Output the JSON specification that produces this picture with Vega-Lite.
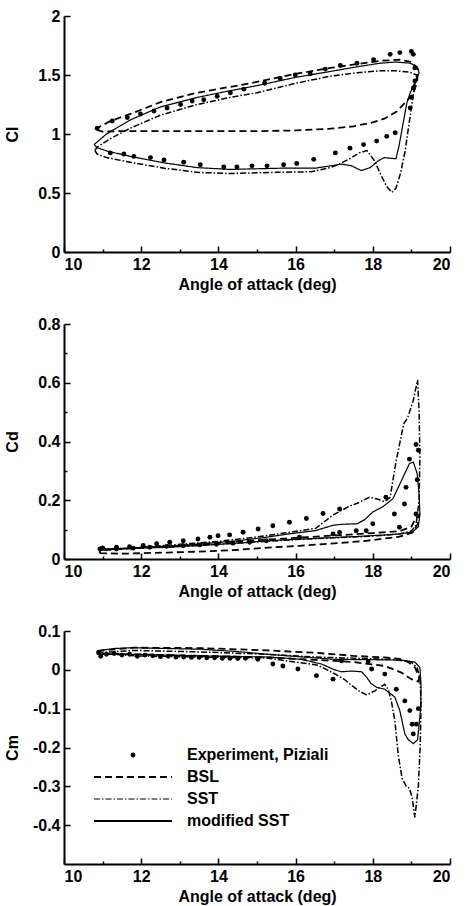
{
  "$schema": "https://vega.github.io/schema/vega-lite/v6.json",
  "padding": {"left": 4, "top": 8, "right": 8, "bottom": 4},
  "spacing": 24,
  "config": {
    "view": {"stroke": null},
    "font": "Liberation Sans",
    "axis": {
      "grid": false,
      "domainColor": "black",
      "domainWidth": 2,
      "tickColor": "black",
      "tickWidth": 1.5,
      "labelColor": "black",
      "labelFont": "Liberation Sans",
      "labelFontSize": 16,
      "labelFontWeight": "bold",
      "titleColor": "black",
      "titleFont": "Liberation Sans",
      "titleFontSize": 16,
      "titleFontWeight": "bold",
      "labelPadding": 10
    },
    "axisX": {"titlePadding": 4},
    "axisY": {"titleAngle": -90, "titleX": -44}
  },
  "resolve": {"scale": {"strokeDash": "independent", "strokeWidth": "independent"}, "legend": {"strokeDash": "independent"}},
  "datasets": {
    "cl": [
      {"m":"modified SST","i":0,"a":10.78,"v":0.91},{"m":"modified SST","i":1,"a":11.1,"v":1.0},{"m":"modified SST","i":2,"a":11.72,"v":1.12},{"m":"modified SST","i":3,"a":12.5,"v":1.23},{"m":"modified SST","i":4,"a":13.45,"v":1.31},{"m":"modified SST","i":5,"a":14.2,"v":1.36},{"m":"modified SST","i":6,"a":15.0,"v":1.41},{"m":"modified SST","i":7,"a":16.0,"v":1.48},{"m":"modified SST","i":8,"a":16.9,"v":1.53},{"m":"modified SST","i":9,"a":17.6,"v":1.57},{"m":"modified SST","i":10,"a":18.19,"v":1.6},{"m":"modified SST","i":11,"a":18.6,"v":1.61},{"m":"modified SST","i":12,"a":18.97,"v":1.6},{"m":"modified SST","i":13,"a":19.15,"v":1.57},{"m":"modified SST","i":14,"a":19.2,"v":1.52},{"m":"modified SST","i":15,"a":19.12,"v":1.46},{"m":"modified SST","i":16,"a":18.97,"v":1.35},{"m":"modified SST","i":17,"a":18.88,"v":1.26},{"m":"modified SST","i":18,"a":18.78,"v":1.08},{"m":"modified SST","i":19,"a":18.68,"v":0.9},{"m":"modified SST","i":20,"a":18.6,"v":0.79},{"m":"modified SST","i":21,"a":18.45,"v":0.795},{"m":"modified SST","i":22,"a":18.3,"v":0.8},{"m":"modified SST","i":23,"a":18.15,"v":0.775},{"m":"modified SST","i":24,"a":17.93,"v":0.715},{"m":"modified SST","i":25,"a":17.7,"v":0.69},{"m":"modified SST","i":26,"a":17.45,"v":0.73},{"m":"modified SST","i":27,"a":17.2,"v":0.745},{"m":"modified SST","i":28,"a":16.9,"v":0.73},{"m":"modified SST","i":29,"a":16.5,"v":0.71},{"m":"modified SST","i":30,"a":15.6,"v":0.71},{"m":"modified SST","i":31,"a":14.3,"v":0.7},{"m":"modified SST","i":32,"a":13.45,"v":0.715},{"m":"modified SST","i":33,"a":12.6,"v":0.755},{"m":"modified SST","i":34,"a":11.72,"v":0.81},{"m":"modified SST","i":35,"a":11.12,"v":0.855},{"m":"modified SST","i":36,"a":10.85,"v":0.885},{"m":"modified SST","i":37,"a":10.78,"v":0.91},
      {"m":"BSL","i":0,"a":10.8,"v":1.04},{"m":"BSL","i":1,"a":11.2,"v":1.11},{"m":"BSL","i":2,"a":11.72,"v":1.17},{"m":"BSL","i":3,"a":12.5,"v":1.27},{"m":"BSL","i":4,"a":13.45,"v":1.35},{"m":"BSL","i":5,"a":14.83,"v":1.43},{"m":"BSL","i":6,"a":16.0,"v":1.51},{"m":"BSL","i":7,"a":16.9,"v":1.56},{"m":"BSL","i":8,"a":18.19,"v":1.62},{"m":"BSL","i":9,"a":18.7,"v":1.63},{"m":"BSL","i":10,"a":19.0,"v":1.61},{"m":"BSL","i":11,"a":19.17,"v":1.55},{"m":"BSL","i":12,"a":19.15,"v":1.45},{"m":"BSL","i":13,"a":19.05,"v":1.34},{"m":"BSL","i":14,"a":18.62,"v":1.19},{"m":"BSL","i":15,"a":18.3,"v":1.13},{"m":"BSL","i":16,"a":18.02,"v":1.1},{"m":"BSL","i":17,"a":17.5,"v":1.065},{"m":"BSL","i":18,"a":16.9,"v":1.045},{"m":"BSL","i":19,"a":16.0,"v":1.03},{"m":"BSL","i":20,"a":15.17,"v":1.025},{"m":"BSL","i":21,"a":12.6,"v":1.025},{"m":"BSL","i":22,"a":11.55,"v":1.025},{"m":"BSL","i":23,"a":11.0,"v":1.02},{"m":"BSL","i":24,"a":10.8,"v":1.04},
      {"m":"SST","i":0,"a":10.8,"v":0.86},{"m":"SST","i":1,"a":10.86,"v":0.89},{"m":"SST","i":2,"a":11.2,"v":0.96},{"m":"SST","i":3,"a":11.72,"v":1.05},{"m":"SST","i":4,"a":12.5,"v":1.16},{"m":"SST","i":5,"a":13.45,"v":1.25},{"m":"SST","i":6,"a":14.3,"v":1.31},{"m":"SST","i":7,"a":15.0,"v":1.35},{"m":"SST","i":8,"a":16.0,"v":1.43},{"m":"SST","i":9,"a":16.9,"v":1.49},{"m":"SST","i":10,"a":17.6,"v":1.52},{"m":"SST","i":11,"a":18.19,"v":1.535},{"m":"SST","i":12,"a":18.6,"v":1.535},{"m":"SST","i":13,"a":18.95,"v":1.525},{"m":"SST","i":14,"a":19.14,"v":1.5},{"m":"SST","i":15,"a":19.08,"v":1.41},{"m":"SST","i":16,"a":18.99,"v":1.2},{"m":"SST","i":17,"a":18.9,"v":1.0},{"m":"SST","i":18,"a":18.84,"v":0.86},{"m":"SST","i":19,"a":18.72,"v":0.67},{"m":"SST","i":20,"a":18.6,"v":0.54},{"m":"SST","i":21,"a":18.49,"v":0.505},{"m":"SST","i":22,"a":18.35,"v":0.56},{"m":"SST","i":23,"a":18.2,"v":0.66},{"m":"SST","i":24,"a":18.05,"v":0.77},{"m":"SST","i":25,"a":17.85,"v":0.86},{"m":"SST","i":26,"a":17.65,"v":0.84},{"m":"SST","i":27,"a":17.4,"v":0.79},{"m":"SST","i":28,"a":17.1,"v":0.74},{"m":"SST","i":29,"a":16.9,"v":0.715},{"m":"SST","i":30,"a":16.4,"v":0.68},{"m":"SST","i":31,"a":15.5,"v":0.675},{"m":"SST","i":32,"a":14.3,"v":0.665},{"m":"SST","i":33,"a":13.45,"v":0.675},{"m":"SST","i":34,"a":12.6,"v":0.71},{"m":"SST","i":35,"a":11.72,"v":0.76},{"m":"SST","i":36,"a":11.1,"v":0.8},{"m":"SST","i":37,"a":10.86,"v":0.83},{"m":"SST","i":38,"a":10.8,"v":0.86},
      {"m":"Experiment, Piziali","a":10.86,"v":1.05},{"m":"Experiment, Piziali","a":11.25,"v":1.11},{"m":"Experiment, Piziali","a":11.64,"v":1.14},{"m":"Experiment, Piziali","a":11.98,"v":1.17},{"m":"Experiment, Piziali","a":12.33,"v":1.195},{"m":"Experiment, Piziali","a":12.67,"v":1.22},{"m":"Experiment, Piziali","a":13.02,"v":1.25},{"m":"Experiment, Piziali","a":13.32,"v":1.28},{"m":"Experiment, Piziali","a":13.62,"v":1.29},{"m":"Experiment, Piziali","a":13.97,"v":1.32},{"m":"Experiment, Piziali","a":14.31,"v":1.35},{"m":"Experiment, Piziali","a":14.66,"v":1.38},{"m":"Experiment, Piziali","a":15.2,"v":1.43},{"m":"Experiment, Piziali","a":15.6,"v":1.47},{"m":"Experiment, Piziali","a":15.99,"v":1.5},{"m":"Experiment, Piziali","a":16.38,"v":1.51},{"m":"Experiment, Piziali","a":16.77,"v":1.55},{"m":"Experiment, Piziali","a":17.16,"v":1.58},{"m":"Experiment, Piziali","a":17.59,"v":1.6},{"m":"Experiment, Piziali","a":18.02,"v":1.63},{"m":"Experiment, Piziali","a":18.45,"v":1.675},{"m":"Experiment, Piziali","a":18.7,"v":1.69},{"m":"Experiment, Piziali","a":19.0,"v":1.7},{"m":"Experiment, Piziali","a":19.05,"v":1.675},{"m":"Experiment, Piziali","a":19.09,"v":1.56},{"m":"Experiment, Piziali","a":19.09,"v":1.45},{"m":"Experiment, Piziali","a":19.05,"v":1.39},{"m":"Experiment, Piziali","a":19.0,"v":1.31},{"m":"Experiment, Piziali","a":18.97,"v":1.22},{"m":"Experiment, Piziali","a":18.58,"v":1.01},{"m":"Experiment, Piziali","a":18.36,"v":0.98},{"m":"Experiment, Piziali","a":18.1,"v":0.94},{"m":"Experiment, Piziali","a":17.76,"v":0.91},{"m":"Experiment, Piziali","a":17.41,"v":0.88},{"m":"Experiment, Piziali","a":17.03,"v":0.84},{"m":"Experiment, Piziali","a":16.47,"v":0.785},{"m":"Experiment, Piziali","a":16.03,"v":0.75},{"m":"Experiment, Piziali","a":15.69,"v":0.74},{"m":"Experiment, Piziali","a":15.26,"v":0.73},{"m":"Experiment, Piziali","a":14.87,"v":0.73},{"m":"Experiment, Piziali","a":14.48,"v":0.72},{"m":"Experiment, Piziali","a":14.14,"v":0.72},{"m":"Experiment, Piziali","a":13.53,"v":0.74},{"m":"Experiment, Piziali","a":13.1,"v":0.76},{"m":"Experiment, Piziali","a":12.59,"v":0.78},{"m":"Experiment, Piziali","a":12.24,"v":0.8},{"m":"Experiment, Piziali","a":11.81,"v":0.81},{"m":"Experiment, Piziali","a":11.55,"v":0.83},{"m":"Experiment, Piziali","a":11.2,"v":0.84}
    ],
    "cd": [
      {"m":"modified SST","i":0,"a":10.93,"v":0.034},{"m":"modified SST","i":1,"a":11.5,"v":0.036},{"m":"modified SST","i":2,"a":12.66,"v":0.04},{"m":"modified SST","i":3,"a":13.5,"v":0.046},{"m":"modified SST","i":4,"a":14.5,"v":0.054},{"m":"modified SST","i":5,"a":15.24,"v":0.062},{"m":"modified SST","i":6,"a":16.2,"v":0.068},{"m":"modified SST","i":7,"a":16.97,"v":0.073},{"m":"modified SST","i":8,"a":17.8,"v":0.078},{"m":"modified SST","i":9,"a":18.69,"v":0.085},{"m":"modified SST","i":10,"a":19.03,"v":0.092},{"m":"modified SST","i":11,"a":19.18,"v":0.11},{"m":"modified SST","i":12,"a":19.22,"v":0.15},{"m":"modified SST","i":13,"a":19.2,"v":0.22},{"m":"modified SST","i":14,"a":19.15,"v":0.29},{"m":"modified SST","i":15,"a":19.05,"v":0.33},{"m":"modified SST","i":16,"a":18.95,"v":0.325},{"m":"modified SST","i":17,"a":18.86,"v":0.3},{"m":"modified SST","i":18,"a":18.7,"v":0.255},{"m":"modified SST","i":19,"a":18.52,"v":0.205},{"m":"modified SST","i":20,"a":18.26,"v":0.178},{"m":"modified SST","i":21,"a":18.0,"v":0.16},{"m":"modified SST","i":22,"a":17.8,"v":0.135},{"m":"modified SST","i":23,"a":17.6,"v":0.12},{"m":"modified SST","i":24,"a":17.2,"v":0.118},{"m":"modified SST","i":25,"a":16.97,"v":0.115},{"m":"modified SST","i":26,"a":16.53,"v":0.097},{"m":"modified SST","i":27,"a":15.8,"v":0.085},{"m":"modified SST","i":28,"a":15.24,"v":0.074},{"m":"modified SST","i":29,"a":14.5,"v":0.062},{"m":"modified SST","i":30,"a":13.52,"v":0.051},{"m":"modified SST","i":31,"a":12.5,"v":0.042},{"m":"modified SST","i":32,"a":11.79,"v":0.036},{"m":"modified SST","i":33,"a":10.93,"v":0.03},
      {"m":"SST","i":0,"a":10.93,"v":0.034},{"m":"SST","i":1,"a":12.66,"v":0.04},{"m":"SST","i":2,"a":14.5,"v":0.054},{"m":"SST","i":3,"a":16.0,"v":0.066},{"m":"SST","i":4,"a":17.0,"v":0.072},{"m":"SST","i":5,"a":18.0,"v":0.078},{"m":"SST","i":6,"a":18.69,"v":0.085},{"m":"SST","i":7,"a":19.0,"v":0.095},{"m":"SST","i":8,"a":19.12,"v":0.115},{"m":"SST","i":9,"a":19.2,"v":0.2},{"m":"SST","i":10,"a":19.22,"v":0.35},{"m":"SST","i":11,"a":19.2,"v":0.5},{"m":"SST","i":12,"a":19.16,"v":0.61},{"m":"SST","i":13,"a":19.05,"v":0.54},{"m":"SST","i":14,"a":18.9,"v":0.48},{"m":"SST","i":15,"a":18.8,"v":0.46},{"m":"SST","i":16,"a":18.6,"v":0.33},{"m":"SST","i":17,"a":18.45,"v":0.21},{"m":"SST","i":18,"a":18.3,"v":0.195},{"m":"SST","i":19,"a":18.1,"v":0.205},{"m":"SST","i":20,"a":17.91,"v":0.21},{"m":"SST","i":21,"a":17.6,"v":0.19},{"m":"SST","i":22,"a":17.4,"v":0.18},{"m":"SST","i":23,"a":16.97,"v":0.15},{"m":"SST","i":24,"a":16.53,"v":0.105},{"m":"SST","i":25,"a":15.8,"v":0.09},{"m":"SST","i":26,"a":15.0,"v":0.075},{"m":"SST","i":27,"a":14.0,"v":0.06},{"m":"SST","i":28,"a":13.0,"v":0.05},{"m":"SST","i":29,"a":12.0,"v":0.04},{"m":"SST","i":30,"a":10.93,"v":0.03},
      {"m":"BSL","i":0,"a":10.93,"v":0.02},{"m":"BSL","i":1,"a":11.5,"v":0.018},{"m":"BSL","i":2,"a":12.66,"v":0.022},{"m":"BSL","i":3,"a":13.5,"v":0.025},{"m":"BSL","i":4,"a":14.38,"v":0.03},{"m":"BSL","i":5,"a":15.2,"v":0.038},{"m":"BSL","i":6,"a":16.1,"v":0.045},{"m":"BSL","i":7,"a":17.0,"v":0.053},{"m":"BSL","i":8,"a":17.83,"v":0.062},{"m":"BSL","i":9,"a":18.69,"v":0.076},{"m":"BSL","i":10,"a":19.03,"v":0.09},{"m":"BSL","i":11,"a":19.17,"v":0.12},{"m":"BSL","i":12,"a":19.2,"v":0.15},{"m":"BSL","i":13,"a":19.12,"v":0.14},{"m":"BSL","i":14,"a":19.0,"v":0.11},{"m":"BSL","i":15,"a":18.7,"v":0.095},{"m":"BSL","i":16,"a":18.0,"v":0.088},{"m":"BSL","i":17,"a":17.0,"v":0.08},{"m":"BSL","i":18,"a":16.0,"v":0.072},{"m":"BSL","i":19,"a":15.0,"v":0.064},{"m":"BSL","i":20,"a":14.0,"v":0.055},{"m":"BSL","i":21,"a":13.0,"v":0.045},{"m":"BSL","i":22,"a":12.0,"v":0.038},{"m":"BSL","i":23,"a":10.93,"v":0.03},{"m":"BSL","i":24,"a":10.93,"v":0.02},
      {"m":"Experiment, Piziali","a":10.93,"v":0.034},{"m":"Experiment, Piziali","a":11.36,"v":0.034},{"m":"Experiment, Piziali","a":11.79,"v":0.037},{"m":"Experiment, Piziali","a":12.22,"v":0.04},{"m":"Experiment, Piziali","a":12.66,"v":0.043},{"m":"Experiment, Piziali","a":13.09,"v":0.045},{"m":"Experiment, Piziali","a":13.52,"v":0.048},{"m":"Experiment, Piziali","a":13.95,"v":0.05},{"m":"Experiment, Piziali","a":14.38,"v":0.054},{"m":"Experiment, Piziali","a":14.81,"v":0.057},{"m":"Experiment, Piziali","a":15.24,"v":0.062},{"m":"Experiment, Piziali","a":16.1,"v":0.074},{"m":"Experiment, Piziali","a":16.97,"v":0.085},{"m":"Experiment, Piziali","a":17.83,"v":0.096},{"m":"Experiment, Piziali","a":18.69,"v":0.108},{"m":"Experiment, Piziali","a":19.12,"v":0.153},{"m":"Experiment, Piziali","a":19.15,"v":0.27},{"m":"Experiment, Piziali","a":19.12,"v":0.39},{"m":"Experiment, Piziali","a":19.18,"v":0.37},{"m":"Experiment, Piziali","a":18.95,"v":0.34},{"m":"Experiment, Piziali","a":18.86,"v":0.244},{"m":"Experiment, Piziali","a":18.82,"v":0.187},{"m":"Experiment, Piziali","a":18.56,"v":0.153},{"m":"Experiment, Piziali","a":18.34,"v":0.21},{"m":"Experiment, Piziali","a":18.0,"v":0.12},{"m":"Experiment, Piziali","a":17.57,"v":0.096},{"m":"Experiment, Piziali","a":17.14,"v":0.09},{"m":"Experiment, Piziali","a":17.14,"v":0.17},{"m":"Experiment, Piziali","a":16.71,"v":0.155},{"m":"Experiment, Piziali","a":16.28,"v":0.138},{"m":"Experiment, Piziali","a":15.84,"v":0.125},{"m":"Experiment, Piziali","a":15.41,"v":0.113},{"m":"Experiment, Piziali","a":15.03,"v":0.102},{"m":"Experiment, Piziali","a":14.64,"v":0.091},{"m":"Experiment, Piziali","a":14.29,"v":0.082},{"m":"Experiment, Piziali","a":13.99,"v":0.079},{"m":"Experiment, Piziali","a":13.78,"v":0.074},{"m":"Experiment, Piziali","a":13.47,"v":0.068},{"m":"Experiment, Piziali","a":13.09,"v":0.062},{"m":"Experiment, Piziali","a":12.74,"v":0.057},{"m":"Experiment, Piziali","a":12.4,"v":0.052},{"m":"Experiment, Piziali","a":12.05,"v":0.046},{"m":"Experiment, Piziali","a":11.7,"v":0.042},{"m":"Experiment, Piziali","a":11.36,"v":0.04},{"m":"Experiment, Piziali","a":11.0,"v":0.038}
    ],
    "cm": [
      {"m":"modified SST","i":0,"a":10.87,"v":0.049},{"m":"modified SST","i":1,"a":11.3,"v":0.055},{"m":"modified SST","i":2,"a":11.82,"v":0.057},{"m":"modified SST","i":3,"a":12.6,"v":0.055},{"m":"modified SST","i":4,"a":13.55,"v":0.053},{"m":"modified SST","i":5,"a":14.5,"v":0.047},{"m":"modified SST","i":6,"a":15.28,"v":0.04},{"m":"modified SST","i":7,"a":16.2,"v":0.033},{"m":"modified SST","i":8,"a":17.01,"v":0.027},{"m":"modified SST","i":9,"a":18.0,"v":0.026},{"m":"modified SST","i":10,"a":18.74,"v":0.025},{"m":"modified SST","i":11,"a":19.09,"v":0.02},{"m":"modified SST","i":12,"a":19.22,"v":0.006},{"m":"modified SST","i":13,"a":19.25,"v":-0.037},{"m":"modified SST","i":14,"a":19.24,"v":-0.1},{"m":"modified SST","i":15,"a":19.22,"v":-0.12},{"m":"modified SST","i":16,"a":19.16,"v":-0.18},{"m":"modified SST","i":17,"a":19.05,"v":-0.19},{"m":"modified SST","i":18,"a":18.92,"v":-0.18},{"m":"modified SST","i":19,"a":18.83,"v":-0.165},{"m":"modified SST","i":20,"a":18.7,"v":-0.105},{"m":"modified SST","i":21,"a":18.57,"v":-0.07},{"m":"modified SST","i":22,"a":18.31,"v":-0.05},{"m":"modified SST","i":23,"a":18.1,"v":-0.045},{"m":"modified SST","i":24,"a":17.95,"v":-0.035},{"m":"modified SST","i":25,"a":17.85,"v":-0.02},{"m":"modified SST","i":26,"a":17.71,"v":-0.005},{"m":"modified SST","i":27,"a":17.45,"v":-0.003},{"m":"modified SST","i":28,"a":17.19,"v":-0.005},{"m":"modified SST","i":29,"a":17.01,"v":0.0},{"m":"modified SST","i":30,"a":16.67,"v":0.015},{"m":"modified SST","i":31,"a":16.15,"v":0.027},{"m":"modified SST","i":32,"a":15.28,"v":0.033},{"m":"modified SST","i":33,"a":13.55,"v":0.036},{"m":"modified SST","i":34,"a":11.82,"v":0.04},{"m":"modified SST","i":35,"a":10.87,"v":0.04},{"m":"modified SST","i":36,"a":10.87,"v":0.049},
      {"m":"SST","i":0,"a":10.87,"v":0.044},{"m":"SST","i":1,"a":11.82,"v":0.05},{"m":"SST","i":2,"a":13.55,"v":0.046},{"m":"SST","i":3,"a":15.28,"v":0.04},{"m":"SST","i":4,"a":16.5,"v":0.033},{"m":"SST","i":5,"a":17.5,"v":0.03},{"m":"SST","i":6,"a":18.5,"v":0.027},{"m":"SST","i":7,"a":19.0,"v":0.02},{"m":"SST","i":8,"a":19.15,"v":0.005},{"m":"SST","i":9,"a":19.22,"v":-0.02},{"m":"SST","i":10,"a":19.25,"v":-0.08},{"m":"SST","i":11,"a":19.23,"v":-0.19},{"m":"SST","i":12,"a":19.18,"v":-0.3},{"m":"SST","i":13,"a":19.09,"v":-0.38},{"m":"SST","i":14,"a":19.02,"v":-0.33},{"m":"SST","i":15,"a":18.95,"v":-0.305},{"m":"SST","i":16,"a":18.87,"v":-0.3},{"m":"SST","i":17,"a":18.76,"v":-0.28},{"m":"SST","i":18,"a":18.66,"v":-0.22},{"m":"SST","i":19,"a":18.57,"v":-0.13},{"m":"SST","i":20,"a":18.48,"v":-0.08},{"m":"SST","i":21,"a":18.4,"v":-0.05},{"m":"SST","i":22,"a":18.31,"v":-0.037},{"m":"SST","i":23,"a":18.05,"v":-0.054},{"m":"SST","i":24,"a":17.85,"v":-0.065},{"m":"SST","i":25,"a":17.65,"v":-0.055},{"m":"SST","i":26,"a":17.45,"v":-0.04},{"m":"SST","i":27,"a":17.27,"v":-0.025},{"m":"SST","i":28,"a":17.01,"v":-0.01},{"m":"SST","i":29,"a":16.58,"v":0.012},{"m":"SST","i":30,"a":15.28,"v":0.03},{"m":"SST","i":31,"a":13.55,"v":0.033},{"m":"SST","i":32,"a":11.82,"v":0.036},{"m":"SST","i":33,"a":10.87,"v":0.044},
      {"m":"BSL","i":0,"a":10.87,"v":0.049},{"m":"BSL","i":1,"a":11.82,"v":0.057},{"m":"BSL","i":2,"a":13.55,"v":0.056},{"m":"BSL","i":3,"a":15.28,"v":0.05},{"m":"BSL","i":4,"a":16.5,"v":0.044},{"m":"BSL","i":5,"a":17.5,"v":0.036},{"m":"BSL","i":6,"a":18.31,"v":0.032},{"m":"BSL","i":7,"a":18.7,"v":0.028},{"m":"BSL","i":8,"a":18.92,"v":0.02},{"m":"BSL","i":9,"a":19.1,"v":0.005},{"m":"BSL","i":10,"a":19.2,"v":-0.02},{"m":"BSL","i":11,"a":19.18,"v":-0.03},{"m":"BSL","i":12,"a":19.0,"v":-0.024},{"m":"BSL","i":13,"a":18.74,"v":-0.007},{"m":"BSL","i":14,"a":18.31,"v":0.01},{"m":"BSL","i":15,"a":17.5,"v":0.02},{"m":"BSL","i":16,"a":17.01,"v":0.023},{"m":"BSL","i":17,"a":15.28,"v":0.032},{"m":"BSL","i":18,"a":13.55,"v":0.036},{"m":"BSL","i":19,"a":11.82,"v":0.04},{"m":"BSL","i":20,"a":10.87,"v":0.042},{"m":"BSL","i":21,"a":10.87,"v":0.049},
      {"m":"Experiment, Piziali","a":10.9,"v":0.045},{"m":"Experiment, Piziali","a":10.95,"v":0.035},{"m":"Experiment, Piziali","a":11.1,"v":0.04},{"m":"Experiment, Piziali","a":11.3,"v":0.042},{"m":"Experiment, Piziali","a":11.5,"v":0.038},{"m":"Experiment, Piziali","a":11.7,"v":0.04},{"m":"Experiment, Piziali","a":11.9,"v":0.035},{"m":"Experiment, Piziali","a":12.1,"v":0.038},{"m":"Experiment, Piziali","a":12.3,"v":0.036},{"m":"Experiment, Piziali","a":12.5,"v":0.034},{"m":"Experiment, Piziali","a":12.7,"v":0.035},{"m":"Experiment, Piziali","a":12.9,"v":0.033},{"m":"Experiment, Piziali","a":13.1,"v":0.033},{"m":"Experiment, Piziali","a":13.3,"v":0.032},{"m":"Experiment, Piziali","a":13.5,"v":0.032},{"m":"Experiment, Piziali","a":13.7,"v":0.031},{"m":"Experiment, Piziali","a":13.9,"v":0.031},{"m":"Experiment, Piziali","a":14.1,"v":0.03},{"m":"Experiment, Piziali","a":14.3,"v":0.03},{"m":"Experiment, Piziali","a":14.5,"v":0.029},{"m":"Experiment, Piziali","a":14.7,"v":0.03},{"m":"Experiment, Piziali","a":15.02,"v":0.027},{"m":"Experiment, Piziali","a":15.41,"v":0.015},{"m":"Experiment, Piziali","a":15.67,"v":0.01},{"m":"Experiment, Piziali","a":16.06,"v":0.002},{"m":"Experiment, Piziali","a":16.54,"v":-0.015},{"m":"Experiment, Piziali","a":16.97,"v":-0.024},{"m":"Experiment, Piziali","a":17.19,"v":0.023},{"m":"Experiment, Piziali","a":17.88,"v":0.021},{"m":"Experiment, Piziali","a":17.97,"v":0.002},{"m":"Experiment, Piziali","a":18.31,"v":-0.011},{"m":"Experiment, Piziali","a":18.61,"v":-0.05},{"m":"Experiment, Piziali","a":18.83,"v":-0.08},{"m":"Experiment, Piziali","a":18.96,"v":-0.105},{"m":"Experiment, Piziali","a":19.02,"v":-0.14},{"m":"Experiment, Piziali","a":19.05,"v":-0.165},{"m":"Experiment, Piziali","a":19.13,"v":-0.14},{"m":"Experiment, Piziali","a":19.18,"v":-0.1}
    ]
  },
  "vconcat": [
    {
      "width": 386, "height": 236,
      "data": {"name": "cl"},
      "encoding": {
        "x": {"field": "a", "type": "quantitative", "scale": {"domain": [10, 20]},
          "axis": {"title": "Angle of attack (deg)", "values": [10,11,12,13,14,15,16,17,18,19,20], "labelExpr": "datum.value % 2 == 0 ? datum.label : ''", "tickSize": {"condition": {"test": "datum.value % 2 == 0", "value": -6}, "value": -3}}},
        "y": {"field": "v", "type": "quantitative", "scale": {"domain": [0, 2]},
          "axis": {"title": "Cl", "values": [0, 0.5, 1, 1.5, 2], "format": "~g", "tickSize": -6}}
      },
      "layer": [
        {"transform": [{"filter": "datum.m != 'Experiment, Piziali'"}],
         "mark": {"type": "line", "color": "black"},
         "encoding": {
           "order": {"field": "i", "type": "quantitative"},
           "strokeDash": {"field": "m", "type": "nominal", "scale": {"domain": ["Experiment, Piziali", "BSL", "SST", "modified SST"], "range": [[1, 0], [7, 4], [6, 2, 1.5, 2], [1, 0]]}, "legend": null},
           "strokeWidth": {"field": "m", "type": "nominal", "scale": {"domain": ["BSL", "SST", "modified SST"], "range": [1.8, 1.2, 2.4]}, "legend": null}
         }},
        {"transform": [{"filter": "datum.m == 'Experiment, Piziali'"}],
         "mark": {"type": "point", "filled": true, "color": "black", "size": 24, "opacity": 1}}
      ]
    },
    {
      "width": 386, "height": 235,
      "data": {"name": "cd"},
      "encoding": {
        "x": {"field": "a", "type": "quantitative", "scale": {"domain": [10, 20]},
          "axis": {"title": "Angle of attack (deg)", "values": [10,11,12,13,14,15,16,17,18,19,20], "labelExpr": "datum.value % 2 == 0 ? datum.label : ''", "tickSize": {"condition": {"test": "datum.value % 2 == 0", "value": -6}, "value": -3}}},
        "y": {"field": "v", "type": "quantitative", "scale": {"domain": [0, 0.8]},
          "axis": {"title": "Cd", "values": [0, 0.1, 0.2, 0.3, 0.4, 0.5, 0.6, 0.7, 0.8], "format": "~g", "labelExpr": "round(datum.value * 10) % 2 == 0 ? datum.label : ''", "tickSize": {"condition": {"test": "round(datum.value * 10) % 2 == 0", "value": -6}, "value": -3}}}
      },
      "layer": [
        {"transform": [{"filter": "datum.m != 'Experiment, Piziali'"}],
         "mark": {"type": "line", "color": "black"},
         "encoding": {
           "order": {"field": "i", "type": "quantitative"},
           "strokeDash": {"field": "m", "type": "nominal", "scale": {"domain": ["Experiment, Piziali", "BSL", "SST", "modified SST"], "range": [[1, 0], [7, 4], [6, 2, 1.5, 2], [1, 0]]}, "legend": null},
           "strokeWidth": {"field": "m", "type": "nominal", "scale": {"domain": ["BSL", "SST", "modified SST"], "range": [1.8, 1.2, 2.4]}, "legend": null}
         }},
        {"transform": [{"filter": "datum.m == 'Experiment, Piziali'"}],
         "mark": {"type": "point", "filled": true, "color": "black", "size": 24, "opacity": 1}}
      ]
    },
    {
      "width": 386, "height": 233,
      "data": {"name": "cm"},
      "encoding": {
        "x": {"field": "a", "type": "quantitative", "scale": {"domain": [10, 20]},
          "axis": {"title": "Angle of attack (deg)", "values": [10,11,12,13,14,15,16,17,18,19,20], "labelExpr": "datum.value % 2 == 0 ? datum.label : ''", "tickSize": {"condition": {"test": "datum.value % 2 == 0", "value": -6}, "value": -3}}},
        "y": {"field": "v", "type": "quantitative", "scale": {"domain": [-0.5, 0.1]},
          "axis": {"title": "Cm", "values": [-0.4, -0.3, -0.2, -0.1, 0, 0.1], "labelExpr": "replace(format(datum.value, '.1~f'), '\u2212', '-')", "tickSize": -6}}
      },
      "layer": [
        {"transform": [{"filter": "datum.m != 'Experiment, Piziali'"}],
         "mark": {"type": "line", "color": "black"},
         "encoding": {
           "order": {"field": "i", "type": "quantitative"},
           "strokeDash": {"field": "m", "type": "nominal", "scale": {"domain": ["Experiment, Piziali", "BSL", "SST", "modified SST"], "range": [[1, 0], [7, 4], [6, 2, 1.5, 2], [1, 0]]},
             "legend": {"orient": "none", "legendX": 30, "legendY": 116, "title": null, "symbolType": "stroke", "symbolSize": 6084, "rowPadding": 6, "labelFont": "Liberation Sans", "labelFontSize": 16, "labelFontWeight": "bold", "labelColor": "black", "labelOffset": 15, "symbolStrokeColor": "black", "symbolStrokeWidth": 1.8,
               "encode": {
                 "symbols": {"update": {
                   "x": {"value": 39},
                   "shape": {"signal": "datum.value === 'Experiment, Piziali' ? 'circle' : 'stroke'"},
                   "size": {"signal": "datum.value === 'Experiment, Piziali' ? 24 : 6084"},
                   "stroke": {"value": "black"},
                   "fill": {"signal": "datum.value === 'Experiment, Piziali' ? 'black' : 'transparent'"},
                   "strokeWidth": {"signal": "datum.value === 'Experiment, Piziali' ? 0 : (datum.value === 'SST' ? 1.2 : 1.8)"}
                 }},
                 "labels": {"update": {"x": {"value": 93}}}
               }}},
           "strokeWidth": {"field": "m", "type": "nominal", "scale": {"domain": ["BSL", "SST", "modified SST"], "range": [1.8, 1.2, 2.4]}, "legend": null}
         }},
        {"transform": [{"filter": "datum.m == 'Experiment, Piziali'"}],
         "mark": {"type": "point", "filled": true, "color": "black", "size": 24, "opacity": 1}}
      ]
    }
  ]
}
